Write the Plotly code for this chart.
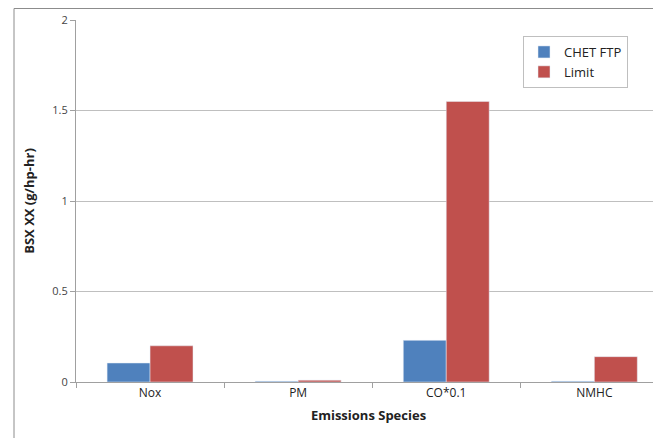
import plotly.graph_objects as go

categories = ["Nox", "PM", "CO*0.1", "NMHC"]
chet_ftp = [0.105, 0.004, 0.23, 0.004]
limit = [0.2, 0.01, 1.55, 0.14]
y_ticks = [0, 0.5, 1, 1.5, 2]
y_tick_labels = ["0", "0.5", "1", "1.5", "2"]

# page body has an 8px margin, so figure pixels = screen pixels - 8
OFF = 8
W, H = 661 - OFF, 438 - OFF
L, R, T, B = 76 - OFF, 0, 20 - OFF, 438 - 382
pw, ph = W - L - R, H - T - B

fig = go.Figure()
fig.add_trace(go.Bar(name="CHET FTP", x=categories, y=chet_ftp, marker_color="#4F81BD"))
fig.add_trace(go.Bar(name="Limit", x=categories, y=limit, marker_color="#C0504D"))

font = "Open Sans, Liberation Sans, sans-serif"
fig.update_layout(
    width=W, height=H,
    margin=dict(l=L, r=R, t=T, b=B, autoexpand=False),
    paper_bgcolor="white", plot_bgcolor="white",
    barmode="group", bargap=0.42, bargroupgap=0,
    font=dict(family=font, size=11, color="#404040"),
    showlegend=True,
    legend=dict(x=(523 - 76) / pw, y=(382 - 36) / ph, xanchor="left", yanchor="top",
                bordercolor="#BFBFBF", borderwidth=1, bgcolor="white",
                font=dict(size=13, color="#222"), itemwidth=30, tracegroupgap=0),
    xaxis=dict(range=[-0.5, 3.45], showline=True, linecolor="#A0A0A0", linewidth=1,
               automargin=False,
               ticks="outside", tickson="boundaries", ticklen=5, tickcolor="#A0A0A0",
               tickfont=dict(size=12, color="#222"),
               title=dict(text="<b>Emissions Species</b>", font=dict(size=13, color="#222"), standoff=10)),
    yaxis=dict(range=[0, 2], tickvals=y_ticks, ticktext=y_tick_labels,
               showline=True, linecolor="#A0A0A0", linewidth=1, automargin=False,
               ticks="outside", ticklen=5, tickcolor="#A0A0A0",
               showgrid=True, gridcolor="#BFBFBF", gridwidth=1, zeroline=False,
               tickfont=dict(size=11, color="#444"),
               title=dict(text="<b>BSX XX (g/hp-hr)</b>", font=dict(size=13, color="#222"), standoff=14)),
    shapes=[dict(type="rect", xref="paper", yref="paper",
                 x0=(14 - 76) / pw, x1=1.2, y0=-0.3, y1=(382 - 8.5) / ph,
                 line=dict(color="#8C8C8C", width=1), fillcolor="rgba(0,0,0,0)", layer="above")],
)

fig.write_html("out.html")
